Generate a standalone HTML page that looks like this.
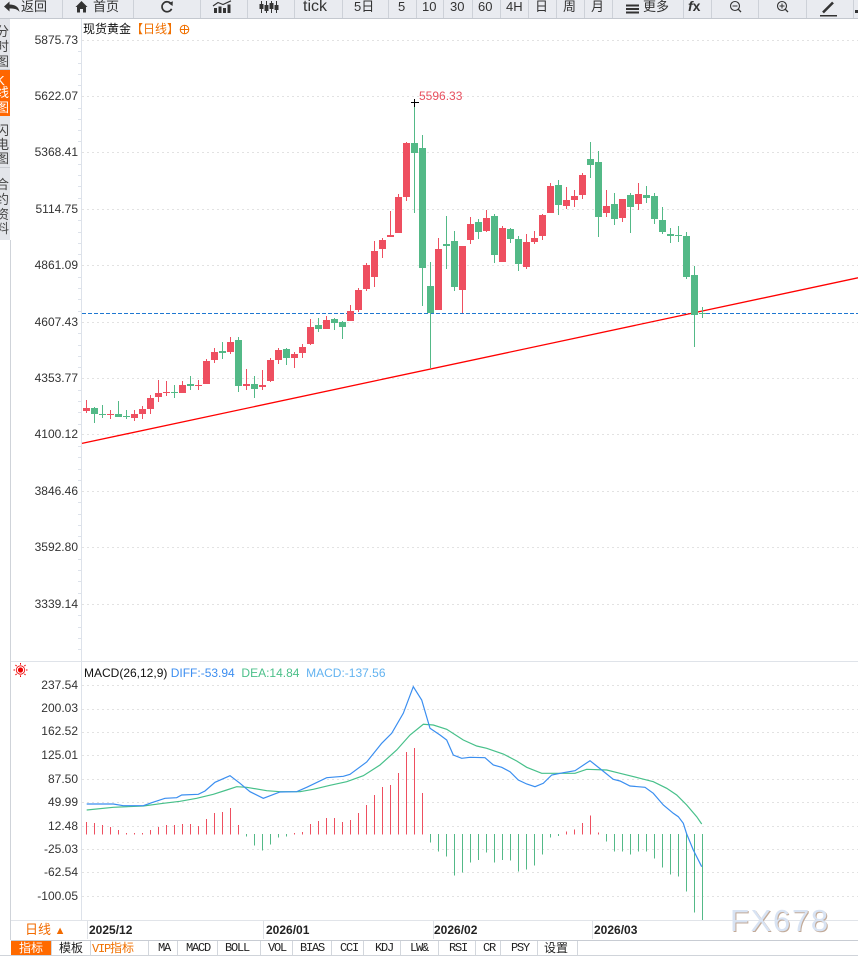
<!DOCTYPE html>
<html><head><meta charset="utf-8">
<style>
*{margin:0;padding:0;box-sizing:border-box}
body{width:858px;height:956px;overflow:hidden;background:#fff;position:relative;font-family:"Liberation Sans","Noto Sans CJK SC",sans-serif;color:#333}
.a{position:absolute;white-space:nowrap}
.tb{font-size:13px;line-height:15px;top:-1px;color:#333}
.yl{font-size:12px;line-height:14px;width:70px;left:8px;text-align:right;color:#333}
.sc{position:absolute;left:-4px;font-size:13px;line-height:13px;color:#444}
.tab{font-size:12px;line-height:16px;top:940px;color:#222}
.mono{font-family:"Liberation Mono",monospace;font-size:12px;letter-spacing:-1.2px}
</style></head><body>

<svg class="a" style="left:0;top:0" width="858" height="956" shape-rendering="crispEdges">
<!-- toolbar -->
<rect width="858" height="18" fill="#e9ebf0"/>
<rect y="18" width="858" height="1" fill="#c4c8cf"/>
<g fill="#cdd1d8">
<rect x="62" width="1" height="18"/><rect x="133" width="1" height="18"/><rect x="200" width="1" height="18"/><rect x="247" width="1" height="18"/><rect x="294" width="1" height="18"/><rect x="342" width="1" height="18"/><rect x="388" width="1" height="18"/><rect x="416" width="1" height="18"/><rect x="443" width="1" height="18"/><rect x="472" width="1" height="18"/><rect x="500" width="1" height="18"/><rect x="528" width="1" height="18"/><rect x="556" width="1" height="18"/><rect x="584" width="1" height="18"/><rect x="612" width="1" height="18"/><rect x="683" width="1" height="18"/><rect x="711" width="1" height="18"/><rect x="758" width="1" height="18"/><rect x="806" width="1" height="18"/><rect x="853" width="1" height="18"/>
</g>
<g fill="#333" shape-rendering="auto">
<path d="M4 6.5 L9.5 1.5 V4.5 C15 4.5 19 7 19.5 12 C17.5 9 14.5 8.5 9.5 8.5 V11.5 Z"/>
<path d="M75.5 7 L81.5 1 L87.5 7 H86 V12.5 H83 V9 H80 V12.5 H77 V7 Z"/>
<path d="M171.2 4 A5 5 0 1 0 171.6 8.8" fill="none" stroke="#333" stroke-width="1.7"/>
<path d="M168.5 3.2 L172.8 1.2 L172.6 6 Z"/>
<rect x="214" y="8" width="3" height="5"/><rect x="218.5" y="6.5" width="3" height="6.5"/><rect x="223" y="8" width="3" height="5"/><rect x="227.5" y="4.5" width="3" height="8.5"/>
<polyline points="213,6 218,2.5 223,4.5 231,0.8" fill="none" stroke="#333" stroke-width="1.2"/>
<rect x="261" y="1" width="1" height="12"/><rect x="259.5" y="4" width="4" height="5"/>
<rect x="266" y="1" width="1" height="12"/><rect x="264.5" y="5" width="4" height="6"/>
<rect x="271" y="1" width="1" height="12"/><rect x="269.5" y="3" width="4" height="6"/>
<rect x="276" y="1" width="1" height="12"/><rect x="274.5" y="5" width="4" height="5"/>
<rect x="626" y="4.5" width="13" height="2"/><rect x="626" y="8" width="13" height="2"/><rect x="626" y="11.5" width="13" height="2"/>
<circle cx="735" cy="6" r="4.5" fill="none" stroke="#333" stroke-width="1.1"/>
<rect x="732.5" y="5.5" width="5" height="1"/>
<line x1="738.3" y1="9.3" x2="741" y2="12" stroke="#333" stroke-width="1.3"/>
<circle cx="782" cy="6" r="4.5" fill="none" stroke="#333" stroke-width="1.1"/>
<rect x="779.5" y="5.5" width="5" height="1"/><rect x="781.5" y="3.5" width="1" height="5"/>
<line x1="785.3" y1="9.3" x2="788" y2="12" stroke="#333" stroke-width="1.3"/>
<line x1="823" y1="12.5" x2="833" y2="2.5" stroke="#333" stroke-width="2.6"/>
<rect x="820" y="15" width="17" height="1.5"/>
<rect x="855" y="10" width="3" height="3"/>
</g>

<!-- sidebar & frame lines -->
<rect x="10" y="240" width="1" height="700" fill="#cfd3d9"/>
<rect x="81" y="19" width="1" height="901" fill="#dde2ea"/>
<rect x="11" y="661" width="847" height="1" fill="#dfe3e9"/>
<rect x="11" y="920" width="847" height="1" fill="#e1e4e9"/>
<rect x="11" y="940" width="847" height="1" fill="#c8ccd3"/>
<rect x="0" y="955" width="858" height="1" fill="#d0d4da"/>
<g fill="#dde2ea">
<rect x="78" y="51" width="3" height="1"/><rect x="78" y="63" width="3" height="1"/><rect x="78" y="74" width="3" height="1"/><rect x="78" y="85" width="3" height="1"/>
<rect x="78" y="108" width="3" height="1"/><rect x="78" y="119" width="3" height="1"/><rect x="78" y="130" width="3" height="1"/><rect x="78" y="141" width="3" height="1"/>
<rect x="78" y="164" width="3" height="1"/><rect x="78" y="175" width="3" height="1"/><rect x="78" y="186" width="3" height="1"/><rect x="78" y="198" width="3" height="1"/>
<rect x="78" y="220" width="3" height="1"/><rect x="78" y="232" width="3" height="1"/><rect x="78" y="243" width="3" height="1"/><rect x="78" y="254" width="3" height="1"/>
<rect x="78" y="277" width="3" height="1"/><rect x="78" y="288" width="3" height="1"/><rect x="78" y="299" width="3" height="1"/><rect x="78" y="311" width="3" height="1"/>
<rect x="78" y="333" width="3" height="1"/><rect x="78" y="345" width="3" height="1"/><rect x="78" y="356" width="3" height="1"/><rect x="78" y="367" width="3" height="1"/>
<rect x="78" y="390" width="3" height="1"/><rect x="78" y="401" width="3" height="1"/><rect x="78" y="412" width="3" height="1"/><rect x="78" y="424" width="3" height="1"/>
<rect x="78" y="446" width="3" height="1"/><rect x="78" y="457" width="3" height="1"/><rect x="78" y="469" width="3" height="1"/><rect x="78" y="480" width="3" height="1"/>
<rect x="78" y="502" width="3" height="1"/><rect x="78" y="514" width="3" height="1"/><rect x="78" y="525" width="3" height="1"/><rect x="78" y="536" width="3" height="1"/>
<rect x="78" y="559" width="3" height="1"/><rect x="78" y="570" width="3" height="1"/><rect x="78" y="581" width="3" height="1"/><rect x="78" y="593" width="3" height="1"/>
<rect x="78" y="615" width="3" height="1"/><rect x="78" y="627" width="3" height="1"/><rect x="78" y="638" width="3" height="1"/><rect x="78" y="649" width="3" height="1"/>
</g>

<!-- gridlines -->
<g stroke="#e2e2e2" stroke-width="1" stroke-dasharray="2,3">
<line x1="82" y1="40.5" x2="858" y2="40.5"/><line x1="82" y1="96.5" x2="858" y2="96.5"/><line x1="82" y1="152.5" x2="858" y2="152.5"/><line x1="82" y1="209.5" x2="858" y2="209.5"/><line x1="82" y1="265.5" x2="858" y2="265.5"/><line x1="82" y1="322.5" x2="858" y2="322.5"/><line x1="82" y1="378.5" x2="858" y2="378.5"/><line x1="82" y1="434.5" x2="858" y2="434.5"/><line x1="82" y1="491.5" x2="858" y2="491.5"/><line x1="82" y1="547.5" x2="858" y2="547.5"/><line x1="82" y1="604.5" x2="858" y2="604.5"/>
<line x1="82" y1="685.5" x2="858" y2="685.5"/><line x1="82" y1="709.5" x2="858" y2="709.5"/><line x1="82" y1="732.5" x2="858" y2="732.5"/><line x1="82" y1="755.5" x2="858" y2="755.5"/><line x1="82" y1="779.5" x2="858" y2="779.5"/><line x1="82" y1="802.5" x2="858" y2="802.5"/><line x1="82" y1="826.5" x2="858" y2="826.5"/><line x1="82" y1="849.5" x2="858" y2="849.5"/><line x1="82" y1="872.5" x2="858" y2="872.5"/><line x1="82" y1="896.5" x2="858" y2="896.5"/>
</g>

<!-- dashed price line & trendline -->
<line x1="82" y1="313.5" x2="858" y2="313.5" stroke="#1f78d1" stroke-width="1" stroke-dasharray="4,2"/>
<line x1="82" y1="443.4" x2="858" y2="277.8" stroke="#f00" stroke-width="1.3" shape-rendering="auto"/>

<!-- red candles -->
<g fill="#ee4f60">
<rect x="86" y="400" width="1" height="13"/><rect x="83" y="408" width="7" height="3"/>
<rect x="110" y="410" width="1" height="9"/><rect x="107" y="414" width="7" height="1"/>
<rect x="134" y="410" width="1" height="11"/><rect x="131" y="414" width="7" height="4"/>
<rect x="142" y="406" width="1" height="13"/><rect x="139" y="409" width="7" height="5"/>
<rect x="150" y="395" width="1" height="19"/><rect x="147" y="398" width="7" height="11"/>
<rect x="158" y="380" width="1" height="22"/><rect x="155" y="393" width="7" height="4"/>
<rect x="166" y="381" width="1" height="15"/><rect x="163" y="392" width="7" height="1"/>
<rect x="182" y="381" width="1" height="12"/><rect x="179" y="385" width="7" height="8"/>
<rect x="198" y="380" width="1" height="10"/><rect x="195" y="385" width="7" height="1"/>
<rect x="206" y="359" width="1" height="25"/><rect x="203" y="361" width="7" height="23"/>
<rect x="214" y="348" width="1" height="15"/><rect x="211" y="352" width="7" height="8"/>
<rect x="230" y="337" width="1" height="17"/><rect x="227" y="342" width="7" height="10"/>
<rect x="246" y="369" width="1" height="21"/><rect x="243" y="384" width="7" height="2"/>
<rect x="262" y="370" width="1" height="20"/><rect x="259" y="385" width="7" height="2"/>
<rect x="270" y="358" width="1" height="24"/><rect x="267" y="360" width="7" height="21"/>
<rect x="278" y="348" width="1" height="16"/><rect x="275" y="350" width="7" height="10"/>
<rect x="294" y="352" width="1" height="16"/><rect x="291" y="354" width="7" height="4"/>
<rect x="302" y="344" width="1" height="14"/><rect x="299" y="347" width="7" height="6"/>
<rect x="310" y="319" width="1" height="26"/><rect x="307" y="327" width="7" height="17"/>
<rect x="326" y="316" width="1" height="13"/><rect x="323" y="320" width="7" height="9"/>
<rect x="350" y="305" width="1" height="16"/><rect x="347" y="311" width="7" height="10"/>
<rect x="358" y="288" width="1" height="24"/><rect x="355" y="290" width="7" height="20"/>
<rect x="366" y="263" width="1" height="28"/><rect x="363" y="265" width="7" height="24"/>
<rect x="374" y="241" width="1" height="46"/><rect x="371" y="251" width="7" height="26"/>
<rect x="382" y="238" width="1" height="20"/><rect x="379" y="240" width="7" height="9"/>
<rect x="390" y="211" width="1" height="26"/><rect x="387" y="235" width="7" height="2"/>
<rect x="398" y="194" width="1" height="39"/><rect x="395" y="197" width="7" height="36"/>
<rect x="406" y="142" width="1" height="59"/><rect x="403" y="143" width="7" height="54"/>
<rect x="438" y="238" width="1" height="72"/><rect x="435" y="249" width="7" height="61"/>
<rect x="462" y="246" width="1" height="67"/><rect x="459" y="246" width="7" height="44"/>
<rect x="470" y="217" width="1" height="27"/><rect x="467" y="224" width="7" height="16"/>
<rect x="486" y="210" width="1" height="22"/><rect x="483" y="218" width="7" height="13"/>
<rect x="502" y="226" width="1" height="36"/><rect x="499" y="228" width="7" height="34"/>
<rect x="526" y="234" width="1" height="35"/><rect x="523" y="242" width="7" height="25"/>
<rect x="534" y="231" width="1" height="13"/><rect x="531" y="238" width="7" height="4"/>
<rect x="542" y="214" width="1" height="26"/><rect x="539" y="215" width="7" height="21"/>
<rect x="550" y="183" width="1" height="30"/><rect x="547" y="186" width="7" height="27"/>
<rect x="566" y="187" width="1" height="22"/><rect x="563" y="200" width="7" height="6"/>
<rect x="574" y="190" width="1" height="17"/><rect x="571" y="196" width="7" height="4"/>
<rect x="582" y="173" width="1" height="26"/><rect x="579" y="175" width="7" height="20"/>
<rect x="606" y="190" width="1" height="27"/><rect x="603" y="206" width="7" height="7"/>
<rect x="622" y="199" width="1" height="23"/><rect x="619" y="199" width="7" height="19"/>
<rect x="638" y="183" width="1" height="27"/><rect x="635" y="194" width="7" height="10"/>
</g>
<!-- green candles -->
<g fill="#53b987">
<rect x="94" y="407" width="1" height="16"/><rect x="91" y="408" width="7" height="6"/>
<rect x="102" y="405" width="1" height="13"/><rect x="99" y="414" width="7" height="1"/>
<rect x="118" y="401" width="1" height="16"/><rect x="115" y="414" width="7" height="3"/>
<rect x="126" y="410" width="1" height="9"/><rect x="123" y="416" width="7" height="1"/>
<rect x="174" y="385" width="1" height="13"/><rect x="171" y="392" width="7" height="1"/>
<rect x="190" y="376" width="1" height="14"/><rect x="187" y="384" width="7" height="2"/>
<rect x="222" y="342" width="1" height="17"/><rect x="219" y="351" width="7" height="2"/>
<rect x="238" y="337" width="1" height="55"/><rect x="235" y="340" width="7" height="46"/>
<rect x="254" y="376" width="1" height="22"/><rect x="251" y="384" width="7" height="5"/>
<rect x="286" y="348" width="1" height="17"/><rect x="283" y="349" width="7" height="9"/>
<rect x="318" y="318" width="1" height="14"/><rect x="315" y="325" width="7" height="4"/>
<rect x="334" y="318" width="1" height="12"/><rect x="331" y="319" width="7" height="4"/>
<rect x="342" y="321" width="1" height="18"/><rect x="339" y="322" width="7" height="5"/>
<rect x="414" y="103" width="1" height="110"/><rect x="411" y="143" width="7" height="10"/>
<rect x="422" y="135" width="1" height="171"/><rect x="419" y="148" width="7" height="120"/>
<rect x="430" y="262" width="1" height="106"/><rect x="427" y="286" width="7" height="27"/>
<rect x="446" y="216" width="1" height="53"/><rect x="443" y="244" width="7" height="2"/>
<rect x="454" y="231" width="1" height="60"/><rect x="451" y="241" width="7" height="46"/>
<rect x="478" y="219" width="1" height="20"/><rect x="475" y="222" width="7" height="10"/>
<rect x="494" y="214" width="1" height="49"/><rect x="491" y="216" width="7" height="39"/>
<rect x="510" y="228" width="1" height="15"/><rect x="507" y="229" width="7" height="10"/>
<rect x="518" y="236" width="1" height="35"/><rect x="515" y="239" width="7" height="25"/>
<rect x="558" y="180" width="1" height="35"/><rect x="555" y="185" width="7" height="20"/>
<rect x="590" y="142" width="1" height="36"/><rect x="587" y="159" width="7" height="6"/>
<rect x="598" y="151" width="1" height="86"/><rect x="595" y="162" width="7" height="55"/>
<rect x="614" y="193" width="1" height="32"/><rect x="611" y="204" width="7" height="15"/>
<rect x="630" y="193" width="1" height="40"/><rect x="627" y="195" width="7" height="12"/>
<rect x="646" y="186" width="1" height="17"/><rect x="643" y="195" width="7" height="3"/>
<rect x="654" y="193" width="1" height="31"/><rect x="651" y="196" width="7" height="23"/>
<rect x="662" y="207" width="1" height="27"/><rect x="659" y="220" width="7" height="12"/>
<rect x="670" y="228" width="1" height="15"/><rect x="667" y="234" width="7" height="2"/>
<rect x="678" y="226" width="1" height="16"/><rect x="675" y="235" width="7" height="1"/>
<rect x="686" y="232" width="1" height="47"/><rect x="683" y="236" width="7" height="41"/>
<rect x="694" y="266" width="1" height="81"/><rect x="691" y="275" width="7" height="40"/>
<rect x="702" y="307" width="1" height="11"/><rect x="699" y="313" width="7" height="1"/>
</g>
<!-- peak marker -->
<rect x="411" y="102" width="8" height="1" fill="#000"/><rect x="414" y="99" width="1" height="8" fill="#000"/>

<!-- MACD histogram -->
<g fill="#ee4f60">
<rect x="86" y="822" width="1" height="12.5"/><rect x="94" y="823" width="1" height="11.5"/><rect x="102" y="825" width="1" height="9.5"/><rect x="110" y="827" width="1" height="7.5"/><rect x="118" y="830" width="1" height="4.5"/><rect x="126" y="833" width="1" height="1.5"/><rect x="134" y="833" width="1" height="1.5"/><rect x="142" y="833" width="1" height="1.5"/><rect x="150" y="830" width="1" height="4.5"/><rect x="158" y="827" width="1" height="7.5"/><rect x="166" y="825" width="1" height="9.5"/><rect x="174" y="825" width="1" height="9.5"/><rect x="182" y="824" width="1" height="10.5"/><rect x="190" y="824" width="1" height="10.5"/><rect x="198" y="826" width="1" height="8.5"/><rect x="206" y="819" width="1" height="15.5"/><rect x="214" y="813" width="1" height="21.5"/><rect x="222" y="812" width="1" height="22.5"/><rect x="230" y="808" width="1" height="26.5"/><rect x="238" y="825" width="1" height="9.5"/>
<rect x="294" y="833" width="1" height="1.5"/><rect x="302" y="832" width="1" height="2.5"/><rect x="310" y="824" width="1" height="10.5"/><rect x="318" y="821" width="1" height="13.5"/><rect x="326" y="818" width="1" height="16.5"/><rect x="334" y="818" width="1" height="16.5"/><rect x="342" y="822" width="1" height="12.5"/><rect x="350" y="820" width="1" height="14.5"/><rect x="358" y="813" width="1" height="21.5"/><rect x="366" y="805" width="1" height="29.5"/><rect x="374" y="795" width="1" height="39.5"/><rect x="382" y="787" width="1" height="47.5"/><rect x="390" y="785" width="1" height="49.5"/><rect x="398" y="773" width="1" height="61.5"/><rect x="406" y="752" width="1" height="82.5"/><rect x="414" y="748" width="1" height="86.5"/><rect x="422" y="793" width="1" height="41.5"/>
<rect x="566" y="831.5" width="1" height="3"/><rect x="574" y="829.5" width="1" height="5"/><rect x="582" y="823" width="1" height="11.5"/><rect x="590" y="815.5" width="1" height="19"/><rect x="598" y="832.5" width="1" height="2"/>
</g>
<g fill="#53b987">
<rect x="246" y="834" width="1" height="2.5"/><rect x="254" y="834" width="1" height="11.5"/><rect x="262" y="834" width="1" height="16.5"/><rect x="270" y="834" width="1" height="10.5"/><rect x="278" y="834" width="1" height="3.5"/><rect x="286" y="834" width="1" height="2.5"/>
<rect x="430" y="834" width="1" height="8.5"/><rect x="438" y="834" width="1" height="17.5"/><rect x="446" y="834" width="1" height="22.5"/><rect x="454" y="834" width="1" height="41.5"/><rect x="462" y="834" width="1" height="38.5"/><rect x="470" y="834" width="1" height="28.5"/><rect x="478" y="834" width="1" height="26"/><rect x="486" y="834" width="1" height="18.5"/><rect x="494" y="834" width="1" height="28.5"/><rect x="502" y="834" width="1" height="26"/><rect x="510" y="834" width="1" height="26.5"/><rect x="518" y="834" width="1" height="37.5"/><rect x="526" y="834" width="1" height="35.5"/><rect x="534" y="834" width="1" height="31.5"/><rect x="542" y="834" width="1" height="20.5"/><rect x="550" y="834" width="1" height="3.5"/><rect x="558" y="834" width="1" height="2"/>
<rect x="606" y="834" width="1" height="7.5"/><rect x="614" y="834" width="1" height="17.5"/><rect x="622" y="834" width="1" height="17.5"/><rect x="630" y="834" width="1" height="20.5"/><rect x="638" y="834" width="1" height="17.5"/><rect x="646" y="834" width="1" height="17.5"/><rect x="654" y="834" width="1" height="24.5"/><rect x="662" y="834" width="1" height="33.5"/><rect x="670" y="834" width="1" height="40.5"/><rect x="678" y="834" width="1" height="42.5"/><rect x="686" y="834" width="1" height="57.5"/><rect x="694" y="834" width="1" height="78.5"/><rect x="702" y="834" width="1" height="86"/>
</g>

<!-- MACD lines -->
<g fill="none" stroke-width="1.2" shape-rendering="auto">
<polyline stroke="#47c08a" points="86.7,810 113.3,807.3 143.3,806 163.3,803.3 180,801.3 196.7,798.3 213.3,794.3 226.7,790 236.7,786.7 246.7,787.3 266.7,790.7 280,791.7 300,791.7 313.3,789.3 330,785.3 346.7,781.7 363.3,775.7 380,765 396.7,750 410,735 423.3,724.3 433.3,725 446.7,729.3 463.3,740 476.7,746 486.7,748.3 503.3,754 516.7,761 526.7,767.3 541.7,773.3 575,773.3 586.7,769.3 606.7,770 620,773.3 640,778.3 653.3,781.7 666.7,788.3 676.7,795 686.7,805 696.7,816.7 701.7,824"/>
<polyline stroke="#3a8ef0" points="86.7,804 113.3,804 123.3,805.7 143.3,805.7 151.7,802.7 165,798.3 176.7,797.7 181.7,795 198.3,794.3 205,791 215,782.3 230,775.7 240,783.3 250,791.7 263.3,798.3 280,792 296.7,791.7 306.7,787.3 326.7,777.7 343.3,776.3 350,774.3 366.7,762 381.7,743.3 391.7,733.3 403.3,713.3 413.3,686.7 421.7,700 430,728.3 440,735 446.7,740 453.3,755 461.7,758.3 470,757.3 485,757.7 493.3,765 501.7,767.3 510,771.7 518.3,780 526.7,784 535,786.7 543.3,783.3 551.7,775 563.3,772.7 575,770.7 590,760.7 601.7,770 613.3,779.3 620,781 630,786 645,787.3 653.3,793.3 663.3,805 673.3,813.3 678.3,816.7 683.3,823.3 686.7,834 693.3,850 701.7,866.7"/>
</g>

<!-- sun icon -->
<g shape-rendering="auto">
<circle cx="20.5" cy="670" r="2.6" fill="#e00"/>
<circle cx="20.5" cy="670" r="4.2" fill="none" stroke="#e00" stroke-width="0.8"/>
<g stroke="#e00" stroke-width="1">
<line x1="20.5" y1="663" x2="20.5" y2="664.6"/><line x1="20.5" y1="675.4" x2="20.5" y2="677"/><line x1="13.5" y1="670" x2="15.1" y2="670"/><line x1="25.9" y1="670" x2="27.5" y2="670"/>
<line x1="15.5" y1="665" x2="16.6" y2="666.1"/><line x1="24.4" y1="673.9" x2="25.5" y2="675"/><line x1="25.5" y1="665" x2="24.4" y2="666.1"/><line x1="16.6" y1="673.9" x2="15.5" y2="675"/>
</g>
<circle cx="184.5" cy="29.5" r="4.3" fill="none" stroke="#f07000" stroke-width="1"/>
<line x1="180.2" y1="29.5" x2="188.8" y2="29.5" stroke="#f07000" stroke-width="1"/>
<line x1="184.5" y1="25.2" x2="184.5" y2="33.8" stroke="#f07000" stroke-width="1"/>
</g>

<!-- date ticks -->
<g fill="#dfe2e7">
<rect x="87" y="921" width="1" height="18"/><rect x="263" y="921" width="1" height="18"/><rect x="433" y="921" width="1" height="18"/><rect x="592" y="921" width="1" height="18"/>
</g>
<!-- bottom tab bar -->
<rect x="11" y="941" width="40" height="14" fill="#ff6a00"/>
<g fill="#d3d7dd">
<rect x="51" y="941" width="1" height="14"/><rect x="90" y="941" width="1" height="14"/><rect x="148" y="941" width="1" height="14"/><rect x="177" y="941" width="1" height="14"/><rect x="217" y="941" width="1" height="14"/><rect x="260" y="941" width="1" height="14"/><rect x="292" y="941" width="1" height="14"/><rect x="331" y="941" width="1" height="14"/><rect x="363" y="941" width="1" height="14"/><rect x="400" y="941" width="1" height="14"/><rect x="438" y="941" width="1" height="14"/><rect x="475" y="941" width="1" height="14"/><rect x="500" y="941" width="1" height="14"/><rect x="537" y="941" width="1" height="14"/><rect x="577" y="941" width="1" height="14"/>
</g>
</svg>

<!-- sidebar -->
<div class="a" style="left:0;top:19px;width:10px;height:221px;background:#e3e5ea;overflow:hidden">
  <div style="position:absolute;left:0;top:51px;width:10px;height:46px;background:#ff6600"></div>
  <div style="position:absolute;left:0;top:148px;width:10px;height:1px;background:#c9ccd2"></div>
  <div style="position:absolute;left:0;top:50px;width:10px;height:1px;background:#c9ccd2"></div>
  <div class="sc" style="top:6px">分</div><div class="sc" style="top:21px">时</div><div class="sc" style="top:36px">图</div>
  <div class="sc" style="top:55px;color:#fff">K</div><div class="sc" style="top:67px;color:#fff">线</div><div class="sc" style="top:82px;color:#fff">图</div>
  <div class="sc" style="top:105px">闪</div><div class="sc" style="top:119px">电</div><div class="sc" style="top:133px">图</div>
  <div class="sc" style="top:159px">合</div><div class="sc" style="top:174px">约</div><div class="sc" style="top:189px">资</div><div class="sc" style="top:203px">料</div>
</div>

<!-- toolbar text -->
<div class="a tb" style="left:21px">返回</div>
<div class="a tb" style="left:93px">首页</div>
<div class="a tb" style="left:303px;font-size:16px;top:-2px;line-height:17px">tick</div>
<div class="a tb" style="left:354px">5日</div>
<div class="a tb" style="left:398px">5</div>
<div class="a tb" style="left:422px">10</div>
<div class="a tb" style="left:450px">30</div>
<div class="a tb" style="left:478px">60</div>
<div class="a tb" style="left:506px">4H</div>
<div class="a tb" style="left:535px">日</div>
<div class="a tb" style="left:563px">周</div>
<div class="a tb" style="left:591px">月</div>
<div class="a tb" style="left:643px">更多</div>
<div class="a tb" style="left:688px;font-weight:bold;font-size:14px"><i>f</i>x</div>

<!-- price title -->
<div class="a" style="left:83px;top:22px;font-size:12px;line-height:14px;color:#111">现货黄金<span style="color:#f07000">【日线】</span></div>
<div class="a" style="left:419px;top:89px;font-size:12px;line-height:14px;color:#e8505f">5596.33</div>

<!-- price axis labels -->
<div class="a yl" style="top:33px">5875.73</div>
<div class="a yl" style="top:89px">5622.07</div>
<div class="a yl" style="top:145px">5368.41</div>
<div class="a yl" style="top:202px">5114.75</div>
<div class="a yl" style="top:258px">4861.09</div>
<div class="a yl" style="top:315px">4607.43</div>
<div class="a yl" style="top:371px">4353.77</div>
<div class="a yl" style="top:427px">4100.12</div>
<div class="a yl" style="top:484px">3846.46</div>
<div class="a yl" style="top:540px">3592.80</div>
<div class="a yl" style="top:597px">3339.14</div>

<!-- MACD -->
<div class="a" style="left:84px;top:666px;font-size:12px;line-height:14px;color:#111">MACD(26,12,9) <span style="color:#3d8ef0">DIFF:-53.94</span>&nbsp; <span style="color:#4cc08a">DEA:14.84</span>&nbsp; <span style="color:#63b3f0">MACD:-137.56</span></div>
<div class="a yl" style="top:678px">237.54</div>
<div class="a yl" style="top:701px">200.03</div>
<div class="a yl" style="top:724px">162.52</div>
<div class="a yl" style="top:748px">125.01</div>
<div class="a yl" style="top:772px">87.50</div>
<div class="a yl" style="top:795px">49.99</div>
<div class="a yl" style="top:819px">12.48</div>
<div class="a yl" style="top:842px">-25.03</div>
<div class="a yl" style="top:865px">-62.54</div>
<div class="a yl" style="top:889px">-100.05</div>

<!-- date axis -->
<div class="a" style="left:25px;top:922px;font-size:13px;line-height:16px;color:#f26b00">日线 <span style="font-size:11px">▲</span></div>
<div class="a" style="left:89px;top:923px;font-size:12px;line-height:14px;font-weight:bold;color:#222">2025/12</div>
<div class="a" style="left:266px;top:923px;font-size:12px;line-height:14px;font-weight:bold;color:#222">2026/01</div>
<div class="a" style="left:434px;top:923px;font-size:12px;line-height:14px;font-weight:bold;color:#222">2026/02</div>
<div class="a" style="left:594px;top:923px;font-size:12px;line-height:14px;font-weight:bold;color:#222">2026/03</div>

<!-- watermark -->
<div class="a" style="left:730px;top:905px;font-size:31px;line-height:31px;letter-spacing:1.7px;color:#d8e3f3;text-shadow:1px 1px 0 #c2aa98">FX678</div>

<!-- tabs -->
<div class="a tab" style="left:19px;color:#fff">指标</div>
<div class="a tab" style="left:59px">模板</div>
<div class="a tab" style="left:92px;color:#f07000"><span class="mono">VIP</span>指标</div>
<div class="a tab mono" style="left:158px">MA</div>
<div class="a tab mono" style="left:186px">MACD</div>
<div class="a tab mono" style="left:225px">BOLL</div>
<div class="a tab mono" style="left:268px">VOL</div>
<div class="a tab mono" style="left:300px">BIAS</div>
<div class="a tab mono" style="left:340px">CCI</div>
<div class="a tab mono" style="left:375px">KDJ</div>
<div class="a tab mono" style="left:410px">LW&amp;</div>
<div class="a tab mono" style="left:449px">RSI</div>
<div class="a tab mono" style="left:483px">CR</div>
<div class="a tab mono" style="left:511px">PSY</div>
<div class="a tab" style="left:544px">设置</div>
</body></html>
